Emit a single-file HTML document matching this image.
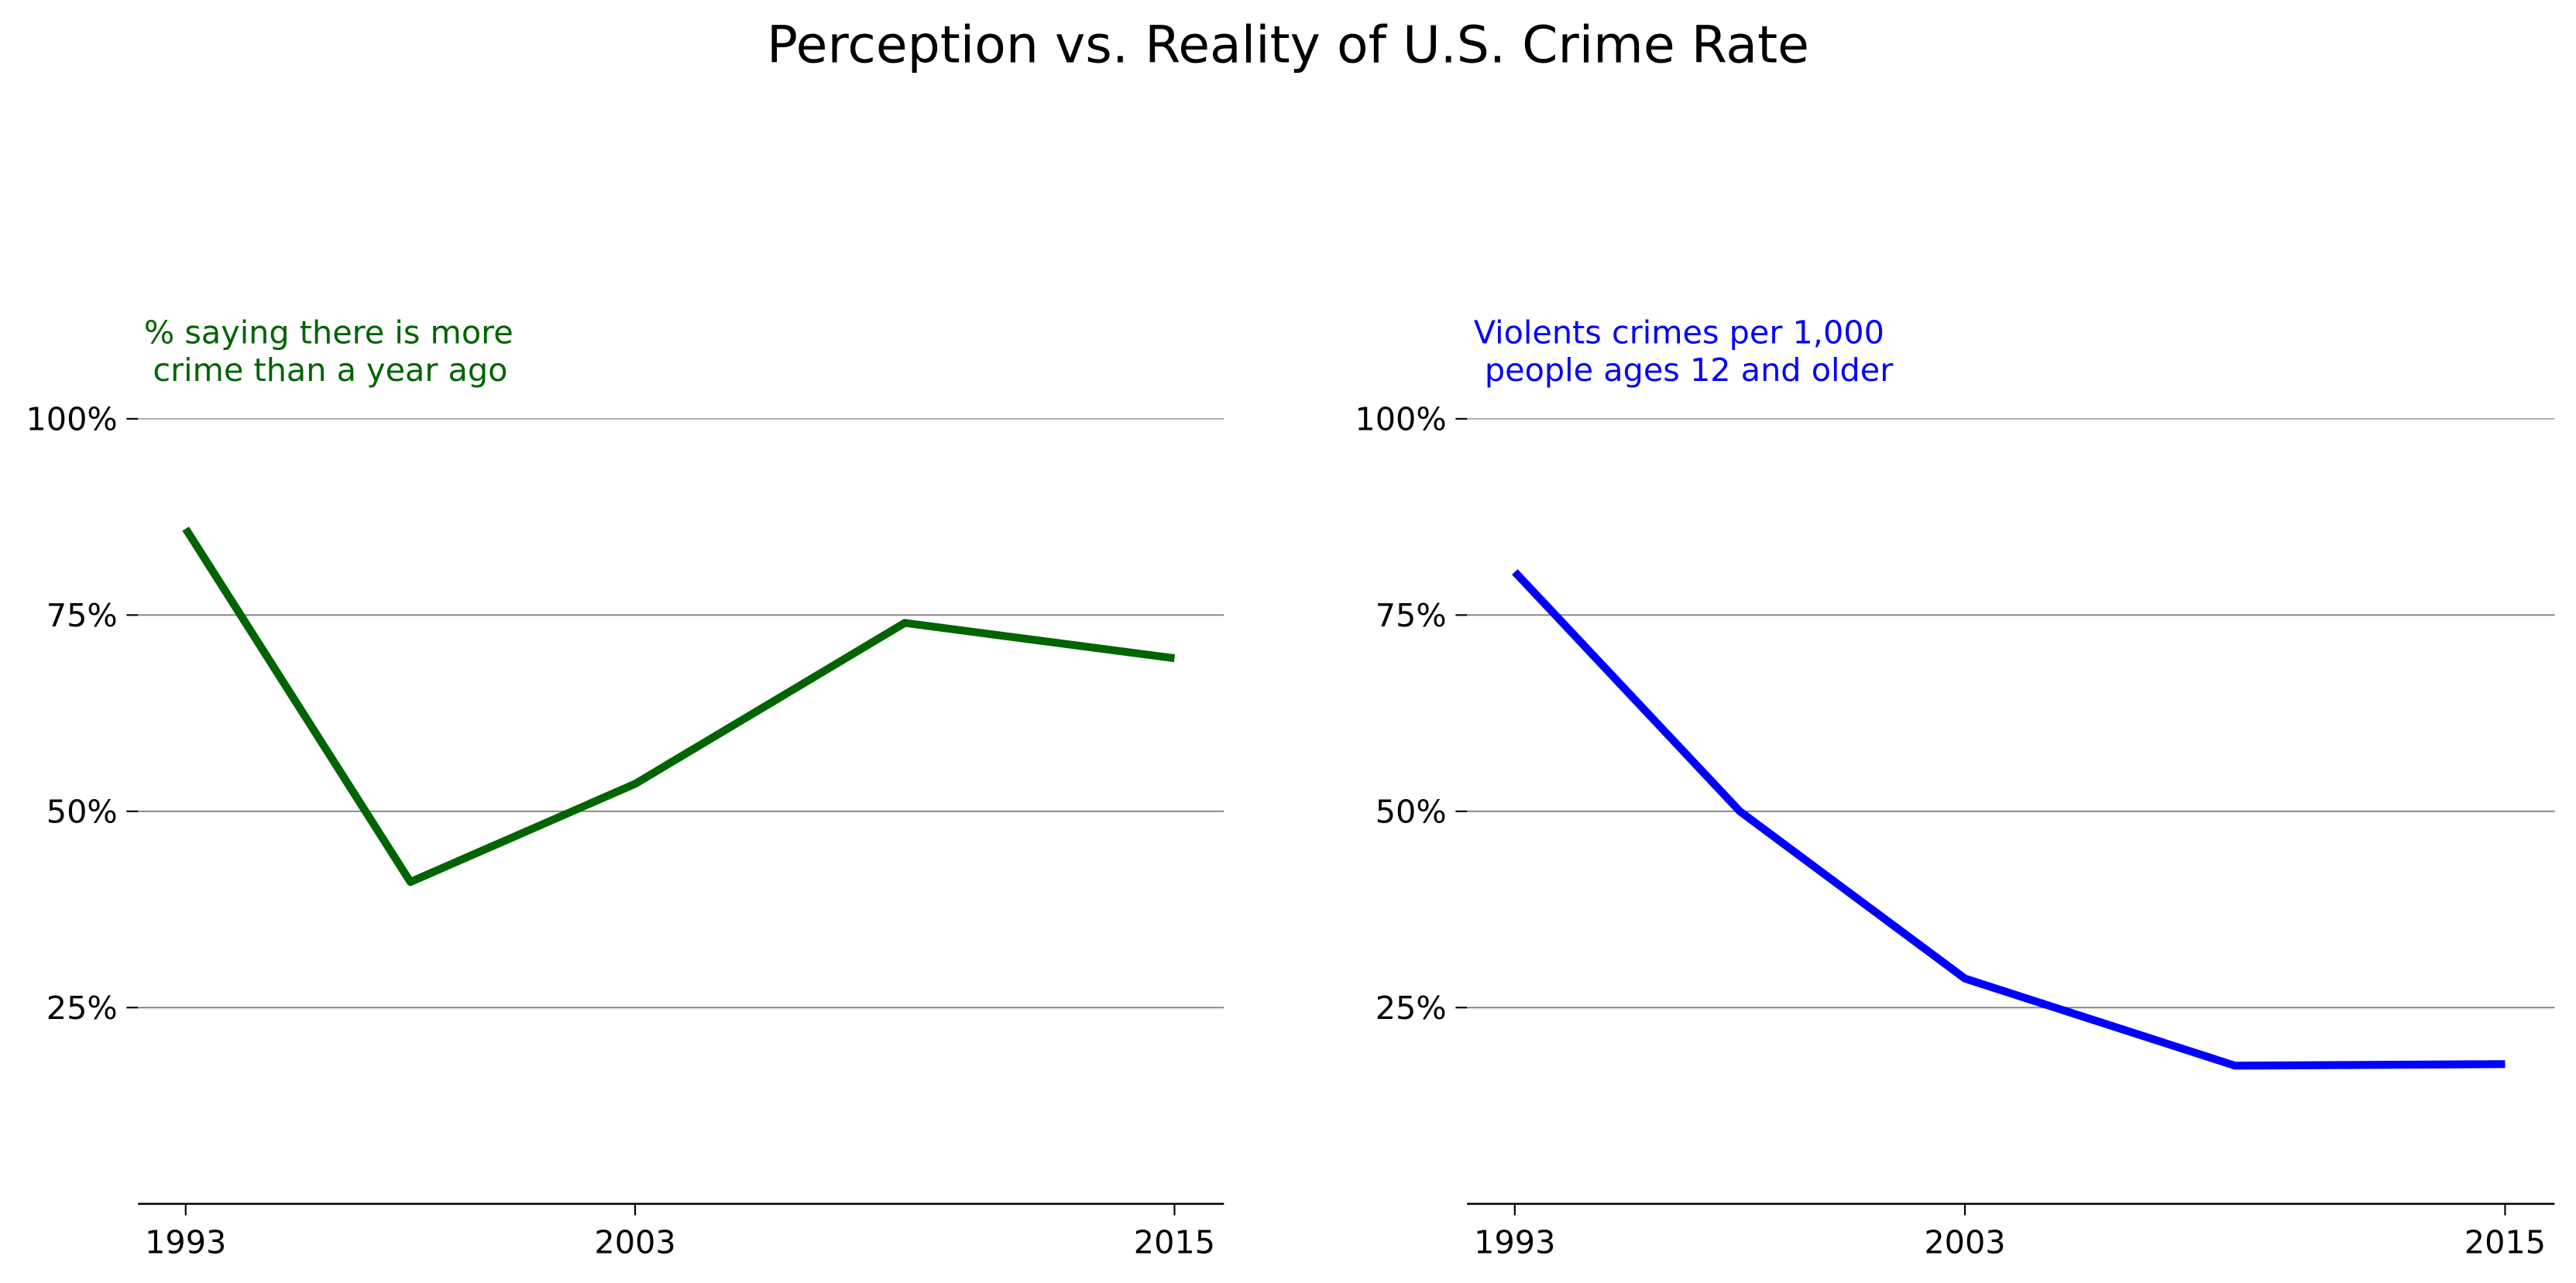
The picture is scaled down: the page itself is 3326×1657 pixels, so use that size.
<!DOCTYPE html>
<html><head><meta charset="utf-8">
<style>
html,body{margin:0;padding:0;background:#fff;}
svg{display:block;}
text{font-family:"DejaVu Sans","Liberation Sans",sans-serif;}
</style></head>
<body>
<svg id="chart" width="3326" height="1657" viewBox="0 0 1568 781.2" xmlns="http://www.w3.org/2000/svg">
<text x="784" y="38" font-size="31.3" text-anchor="middle" fill="#000">Perception vs. Reality of U.S. Crime Rate</text>
</svg>
<script>
const years = [1993, 1998, 2003, 2009, 2015];
const perception = [0.86, 0.41, 0.535, 0.74, 0.695];
const reality = [0.805, 0.50, 0.287, 0.176, 0.178];
const yTicks = [0.25, 0.5, 0.75, 1.0];
const yTickLabels = ['25%', '50%', '75%', '100%'];
const xTicks = [1993, 2003, 2015];
const xTickLabels = ['1993', '2003', '2015'];

const NS = 'http://www.w3.org/2000/svg';
const svg = document.getElementById('chart');
function mk(tag, attrs, parent){
  const e = document.createElementNS(NS, tag);
  for (const k in attrs) e.setAttribute(k, attrs[k]);
  (parent || svg).appendChild(e);
  return e;
}
function panel(x0, x1, values, color, titleLines, titleXs, name){
  const g = mk('g', {});
  
  
  const yBottom = 733, y100 = 255;
  const xmin = 1991.94, xmax = 2016.1;
  const sx = v => x0 + (v - xmin) / (xmax - xmin) * (x1 - x0);
  const sy = v => yBottom - v * (yBottom - y100);
  yTicks.forEach((t, i) => {
    const gl = mk('line', {x1: x0, x2: x1, y1: sy(t), y2: sy(t), stroke: '#808080', 'stroke-width': t === 1 ? 0.6 : 0.9}, g);
    
    
    mk('line', {x1: x0 - 7, x2: x0, y1: sy(t), y2: sy(t), stroke: '#000', 'stroke-width': 1}, g);
    const tl = mk('text', {x: x0 - 12.5, y: sy(t) + 7, 'font-size': 19.5, 'text-anchor': 'end', fill: '#000'}, g);
    tl.textContent = yTickLabels[i];
    
    
  });
  const ax = mk('line', {x1: x0, x2: x1, y1: yBottom, y2: yBottom, stroke: '#000', 'stroke-width': 1.2}, g);
  
  
  xTicks.forEach((t, i) => {
    mk('line', {x1: sx(t), x2: sx(t), y1: yBottom, y2: yBottom + 7, stroke: '#000', 'stroke-width': 1}, g);
    const tl = mk('text', {x: sx(t), y: yBottom + 30, 'font-size': 19.5, 'text-anchor': 'middle', fill: '#000'}, g);
    tl.textContent = xTickLabels[i];
    
    
  });
  const pts = years.map((yr, i) => sx(yr).toFixed(2) + ',' + sy(values[i]).toFixed(2)).join(' ');
  const pl = mk('polyline', {points: pts, fill: 'none', stroke: color, 'stroke-width': 4.8, 'stroke-linejoin': 'round'}, g);
  
  
  titleLines.forEach((ln, i) => {
    const t = mk('text', {x: titleXs[i], y: 209 + i * 23, 'font-size': 19.5, 'text-anchor': 'middle', fill: color}, g);
    t.textContent = ln;
    
    
  });
}
panel(84, 745, perception, '#006400', ['% saying there is more', 'crime than a year ago'], [200, 201], 'perception');
panel(893, 1555, reality, '#0000ff', ['Violents crimes per 1,000', 'people ages 12 and older'], [1022, 1028], 'reality');
</script>
</body></html>
